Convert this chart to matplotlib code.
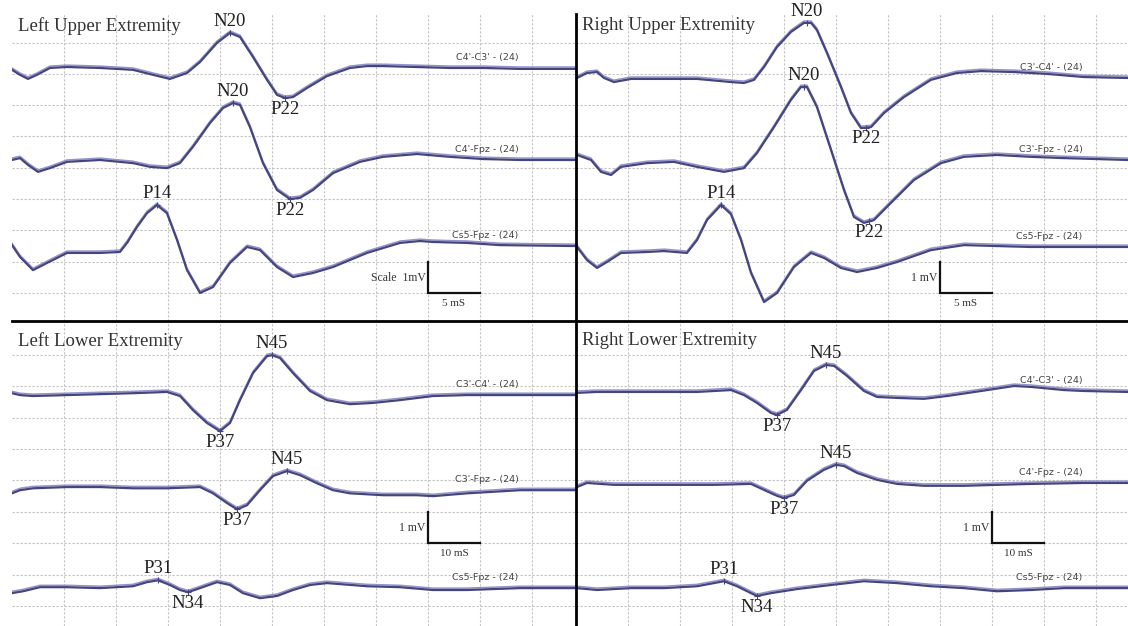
import numpy as np
import matplotlib.pyplot as plt
from matplotlib.lines import Line2D

plt.rcParams['font.family'] = ['Liberation Serif', 'DejaVu Serif']

# Time in ms, amplitude in mV relative to the channel baseline

# Left upper extremity
lue_channels = ["C4'-C3' - (24)", "C4'-Fpz - (24)", "Cs5-Fpz - (24)"]
lue_time = [
    [0, 0.77, 1.54, 2.40, 3.65, 5.29, 8.46, 11.63, 13.56, 15.19, 16.83, 18.08, 19.71, 20.96, 21.92, 23.17,
     24.52, 25.48, 26.25, 27.02, 28.37, 30.29, 32.50, 34.13, 35.67, 38.94, 42.12, 45.29, 48.85, 54.23],
    [0, 0.77, 1.54, 2.50, 3.65, 5.29, 8.46, 11.63, 13.27, 14.90, 16.15, 17.40, 19.04, 20.29, 21.25, 21.92,
     22.88, 24.13, 25.48, 26.73, 27.69, 28.94, 30.87, 33.46, 35.67, 38.94, 42.12, 45.29, 48.85, 54.23],
    [0, 0.77, 2.02, 3.37, 5.29, 8.46, 10.38, 11.06, 12.02, 12.98, 13.94, 14.90, 15.87, 16.83, 18.08, 19.33,
     20.96, 22.60, 23.85, 25.48, 27.02, 28.94, 30.87, 34.13, 37.31, 39.23, 40.48, 43.75, 46.92, 54.23],
]
lue_amp = [
    [-0.06, -0.22, -0.35, -0.22, 0, 0.03, 0, -0.06, -0.22, -0.35, -0.16, 0.19, 0.80, 1.12, 0.99, 0.35,
     -0.38, -0.86, -0.96, -0.93, -0.64, -0.26, 0, 0.06, 0.06, 0.03, 0, 0, -0.03, -0.03],
    [0, 0.06, -0.16, -0.38, -0.26, -0.06, 0, -0.10, -0.22, -0.26, -0.10, 0.42, 1.18, 1.66, 1.82, 1.76,
     1.05, -0.10, -0.96, -1.25, -1.21, -0.96, -0.42, -0.06, 0.10, 0.19, 0.10, 0.03, 0, 0],
    [0.03, -0.35, -0.77, -0.54, -0.22, -0.22, -0.19, 0.10, 0.61, 1.05, 1.31, 1.05, 0.19, -0.77, -1.50, -1.31,
     -0.54, -0.03, -0.13, -0.67, -0.99, -0.86, -0.67, -0.22, 0.10, 0.16, 0.13, 0.10, 0.03, 0],
]
lue_peaks = [(0, 'N20', 20.96, 1), (0, 'P22', 26.25, -1), (1, 'N20', 21.25, 1),
             (1, 'P22', 26.73, -1), (2, 'P14', 13.94, 1)]

# Right upper extremity
rue_channels = ["C3'-C4' - (24)", "C3'-Fpz - (24)", "Cs5-Fpz - (24)"]
rue_time = [
    [0.10, 1.06, 2.02, 2.69, 3.65, 5.29, 8.46, 11.63, 14.90, 16.15, 17.12, 18.08, 19.33, 20.67, 21.92, 22.60,
     23.17, 24.13, 25.48, 26.44, 27.40, 28.37, 29.62, 31.54, 34.13, 36.63, 38.94, 42.12, 45.29, 48.85, 53.08],
    [0.10, 1.44, 2.40, 3.37, 4.33, 6.83, 9.42, 11.63, 14.23, 16.15, 17.40, 19.04, 20.67, 21.63, 22.21, 23.17,
     24.52, 25.77, 26.73, 27.69, 28.65, 30.29, 32.50, 35.10, 37.31, 40.48, 43.75, 46.92, 53.08],
    [0.10, 1.06, 2.02, 2.98, 4.33, 6.83, 8.46, 10.67, 11.63, 12.60, 13.94, 14.90, 15.87, 16.83, 18.08, 19.33,
     20.96, 22.60, 23.85, 25.48, 27.02, 28.94, 30.87, 34.13, 37.31, 40.48, 43.75, 53.08],
]
rue_amp = [
    [0, 0.16, 0.19, 0, -0.13, -0.03, -0.03, -0.03, -0.13, -0.16, -0.06, 0.35, 0.99, 1.47, 1.76, 1.76,
     1.53, 0.80, -0.29, -1.12, -1.60, -1.57, -1.12, -0.61, -0.06, 0.16, 0.22, 0.19, 0.13, 0.03, 0],
    [0.16, 0, -0.38, -0.48, -0.22, -0.10, -0.06, -0.22, -0.38, -0.26, 0.22, 1.05, 1.92, 2.33, 2.33, 1.69,
     0.32, -0.96, -1.82, -2.01, -1.92, -1.37, -0.64, -0.10, 0.10, 0.16, 0.10, 0.06, 0],
    [0, -0.42, -0.67, -0.48, -0.19, -0.16, -0.13, -0.19, 0.22, 0.86, 1.34, 1.05, 0.22, -0.83, -1.76, -1.47,
     -0.64, -0.19, -0.35, -0.67, -0.80, -0.67, -0.48, -0.10, 0.06, 0.03, 0, 0],
]
rue_peaks = [(0, 'N20', 22.2, 1), (0, 'P22', 27.9, -1), (1, 'N20', 21.9, 1),
             (1, 'P22', 28.2, -1), (2, 'P14', 13.94, 1)]

# Left lower extremity
lle_channels = ["C3'-C4' - (24)", "C3'-Fpz - (24)", "Cs5-Fpz - (24)"]
lle_time = [
    [0, 1.54, 4.04, 10.58, 16.92, 23.27, 29.81, 32.31, 34.81, 37.50, 40.00, 41.92, 43.85, 46.35, 49.04, 50.00,
     51.54, 54.04, 57.31, 60.58, 65.00, 69.42, 74.62, 80.96, 87.50, 97.69, 108.46],
    [0, 1.54, 4.04, 10.58, 16.92, 23.27, 29.81, 36.15, 38.65, 41.35, 43.27, 45.19, 47.69, 50.19, 52.88, 55.38,
     58.65, 61.73, 65.00, 71.35, 77.88, 80.96, 87.50, 97.69, 108.46],
    [0, 2.12, 5.38, 10.58, 16.92, 23.27, 25.96, 28.08, 30.38, 32.31, 33.85, 36.15, 39.42, 41.92, 44.42, 47.69,
     50.96, 54.04, 57.31, 60.58, 68.27, 74.62, 80.96, 87.50, 97.69, 108.46],
]
lle_amp = [
    [0.06, 0, -0.03, 0, 0.03, 0.06, 0.10, -0.03, -0.48, -0.89, -1.15, -0.89, -0.16, 0.70, 1.24, 1.27,
     1.18, 0.70, 0.13, -0.16, -0.29, -0.25, -0.16, -0.03, 0, 0, 0],
    [-0.10, 0, 0.06, 0.10, 0.10, 0.06, 0.06, 0.10, -0.10, -0.41, -0.61, -0.48, 0, 0.45, 0.61, 0.48,
     0.22, 0, -0.10, -0.16, -0.16, -0.19, -0.10, 0, 0],
    [-0.16, -0.10, 0.03, 0.03, 0, 0.06, 0.19, 0.25, 0.10, -0.06, -0.13, 0, 0.19, 0.10, -0.16, -0.32,
     -0.25, -0.06, 0.10, 0.16, 0.06, 0.03, -0.06, -0.06, 0, 0],
]
lle_peaks = [(0, 'N45', 50.0, 1), (0, 'P37', 40.0, -1), (1, 'N45', 52.88, 1),
             (1, 'P37', 43.27, -1), (2, 'P31', 28.08, 1), (2, 'N34', 33.85, -1)]

# Right lower extremity
rle_channels = ["C4'-C3' - (24)", "C4'-Fpz - (24)", "Cs5-Fpz - (24)"]
rle_time = [
    [0.19, 4.04, 10.58, 16.92, 23.27, 29.81, 32.31, 34.81, 37.50, 38.65, 40.58, 43.27, 45.77, 48.08, 49.62,
     52.12, 55.38, 57.88, 61.73, 66.92, 71.35, 77.88, 84.23, 87.50, 93.85, 97.69, 106.15],
    [0.19, 2.12, 7.31, 13.65, 20.19, 26.54, 33.65, 36.15, 38.65, 40.00, 41.92, 44.42, 47.69, 50.00, 51.54,
     54.04, 57.88, 61.73, 66.92, 74.62, 80.96, 87.50, 97.69, 106.15],
    [0.19, 4.04, 10.58, 16.92, 23.27, 28.46, 30.96, 33.65, 34.81, 37.50, 42.50, 49.04, 55.38, 61.73, 68.27,
     74.62, 80.96, 87.50, 93.85, 106.15],
]
rle_amp = [
    [-0.03, 0, 0, 0, 0, 0.06, -0.10, -0.35, -0.67, -0.73, -0.57, 0.06, 0.67, 0.86, 0.83,
     0.51, 0.03, -0.16, -0.19, -0.22, -0.13, 0.03, 0.19, 0.16, 0.06, 0.03, 0],
    [-0.10, 0.03, -0.03, -0.03, -0.03, -0.03, 0, -0.19, -0.38, -0.45, -0.35, 0.10, 0.45, 0.61, 0.57,
     0.35, 0.13, 0, -0.06, -0.06, -0.03, 0, 0.03, 0.03],
    [0, -0.06, 0, 0, 0.06, 0.22, 0.06, -0.16, -0.25, -0.16, -0.03, 0.10, 0.22, 0.16, 0.06,
     0, -0.10, -0.06, 0, 0],
]
rle_peaks = [(0, 'N45', 48.08, 1), (0, 'P37', 38.65, -1), (1, 'N45', 50.0, 1),
             (1, 'P37', 40.0, -1), (2, 'P31', 28.46, 1), (2, 'N34', 34.81, -1)]

# Layout of each panel: axes rect, x range, y range, grid step, baselines, scale bar
W, H = 1128, 626
panels = [
    dict(title='Left Upper Extremity', ch=lue_channels, t=lue_time, a=lue_amp, pk=lue_peaks,
         rect=[12 / W, 305 / H, 564 / W, 307 / H], xlim=(0, 54.23), ylim=(0.105, 9.914), step=5,
         base=[8.19, 5.25, 2.50], bar=(40, 1, 5), bar_txt='Scale  1mV', bar_x='5 mS', lab_x=48.7),
    dict(title='Right Upper Extremity', ch=rue_channels, t=rue_time, a=rue_amp, pk=rue_peaks,
         rect=[576 / W, 305 / H, 552 / W, 307 / H], xlim=(0, 53.08), ylim=(0.105, 9.914), step=5,
         base=[7.87, 5.25, 2.47], bar=(35, 1, 5), bar_txt='1 mV', bar_x='5 mS', lab_x=48.7),
    dict(title='Left Lower Extremity', ch=lle_channels, t=lle_time, a=lle_amp, pk=lle_peaks,
         rect=[12 / W, 0, 564 / W, 305 / H], xlim=(0, 108.46), ylim=(0.363, 10.08), step=10,
         base=[7.72, 4.69, 1.57], bar=(80, 3, 10), bar_txt='1 mV', bar_x='10 mS', lab_x=97.4),
    dict(title='Right Lower Extremity', ch=rle_channels, t=rle_time, a=rle_amp, pk=rle_peaks,
         rect=[576 / W, 0, 552 / W, 305 / H], xlim=(0, 106.15), ylim=(0.363, 10.08), step=10,
         base=[7.82, 4.89, 1.57], bar=(80, 3, 10), bar_txt='1 mV', bar_x='10 mS', lab_x=97.4),
]

dark = '#45457e'
light = '#9494cc'
grid_col = '#c2c2c2'

fig = plt.figure(figsize=(W / 100, H / 100), dpi=100)

for p in panels:
    ax = fig.add_axes(p['rect'])
    ax.set_xlim(*p['xlim'])
    ax.set_ylim(*p['ylim'])
    ax.set_xticks(np.arange(p['step'], p['xlim'][1], p['step']))
    ax.set_yticks(np.arange(1, 10))
    ax.grid(True, color=grid_col, linestyle=(0, (2, 1.6)), linewidth=0.8)
    ax.tick_params(length=0, labelbottom=False, labelleft=False)
    for s in ax.spines.values():
        s.set_visible(False)

    for i in range(3):
        t = np.array(p['t'][i])
        a = np.array(p['a'][i]) + p['base'][i]
        ax.plot(t, a + 0.06, color=light, lw=1.1, solid_joinstyle='round')
        ax.plot(t, a, color=dark, lw=1.6, solid_joinstyle='round')
        ax.text(p['lab_x'], p['base'][i] + 0.35, p['ch'][i], ha='right', va='center',
                fontsize=6.8, color='#444444', family='Liberation Sans Narrow')

    for ci, name, tp, d in p['pk']:
        v = np.interp(tp, p['t'][ci], p['a'][ci]) + p['base'][ci]
        ax.plot(tp, v, marker='+', ms=4, mew=0.8, color=dark)
        ax.annotate(name, (tp, v), xytext=(0, 2 * d), textcoords='offset points',
                    ha='center', va='bottom' if d > 0 else 'top', fontsize=13.5,
                    color='#222222', annotation_clip=False).set_clip_on(True)

    ax.text(0.011, 0.962 if p['step'] == 5 else 0.935, p['title'], transform=ax.transAxes,
            ha='left', va='center', fontsize=13.5, color='#333333')

    bx, by, bw = p['bar']
    ax.plot([bx, bx, bx + bw], [by + 1, by, by], color='#111111', lw=1.6, solid_joinstyle='miter')
    ax.text(bx - 0.05 * p['step'], by + 0.48, p['bar_txt'], ha='right', va='center',
            fontsize=8.5, color='#333333')
    ax.text(bx + bw / 2, by - 0.32, p['bar_x'], ha='center', va='center',
            fontsize=8, color='#333333')

# Dividers between the four panels
fig.add_artist(Line2D([576 / W, 576 / W], [0, (H - 14) / H], color='black', lw=2))
fig.add_artist(Line2D([12 / W, 1], [305 / H, 305 / H], color='black', lw=2))

fig.savefig('out.png', dpi=100)
